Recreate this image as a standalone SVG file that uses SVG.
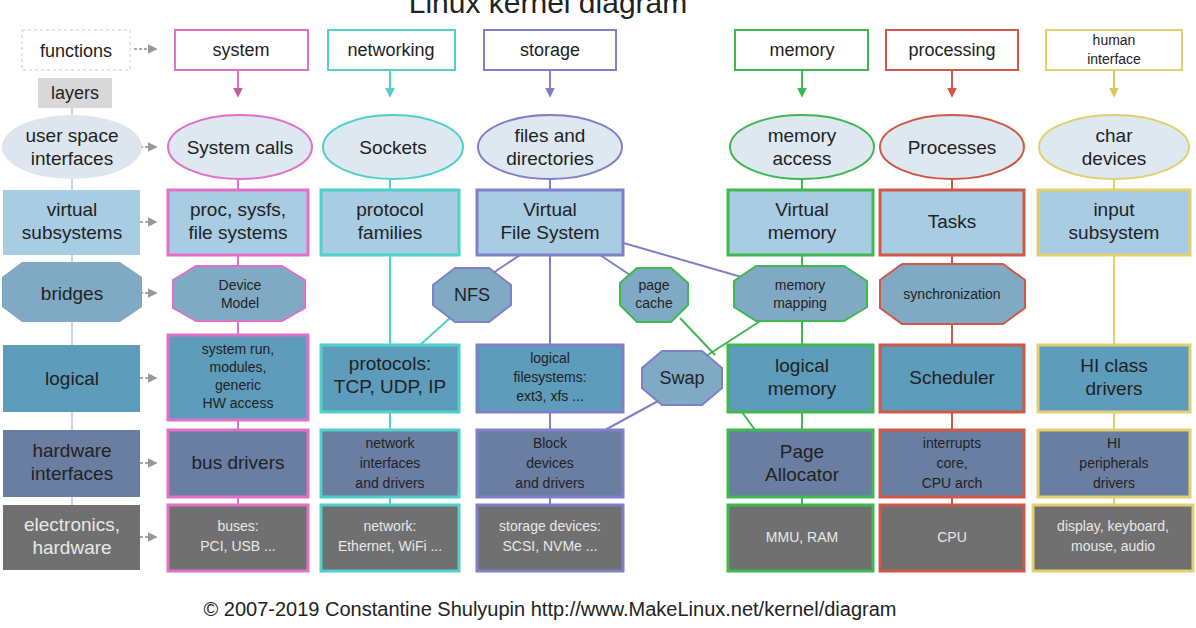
<svg xmlns="http://www.w3.org/2000/svg" width="1196" height="628" viewBox="0 0 1196 628">
<defs>
<marker id="ah" viewBox="0 0 6 6" refX="5" refY="3" markerWidth="5" markerHeight="5" orient="auto"><path d="M0,0L6,3L0,6z" fill="#999"/></marker>
<marker id="pk" viewBox="0 0 6 6" refX="5" refY="3" markerWidth="5" markerHeight="5" orient="auto"><path d="M0,0L6,3L0,6z" fill="#c060a0"/></marker>
<marker id="tl" viewBox="0 0 6 6" refX="5" refY="3" markerWidth="5" markerHeight="5" orient="auto"><path d="M0,0L6,3L0,6z" fill="#50d0c8"/></marker>
<marker id="pu" viewBox="0 0 6 6" refX="5" refY="3" markerWidth="5" markerHeight="5" orient="auto"><path d="M0,0L6,3L0,6z" fill="#8080c8"/></marker>
<marker id="gr" viewBox="0 0 6 6" refX="5" refY="3" markerWidth="5" markerHeight="5" orient="auto"><path d="M0,0L6,3L0,6z" fill="#40b850"/></marker>
<marker id="rd" viewBox="0 0 6 6" refX="5" refY="3" markerWidth="5" markerHeight="5" orient="auto"><path d="M0,0L6,3L0,6z" fill="#d05848"/></marker>
<marker id="yl" viewBox="0 0 6 6" refX="5" refY="3" markerWidth="5" markerHeight="5" orient="auto"><path d="M0,0L6,3L0,6z" fill="#d8c860"/></marker>
</defs>
<style>
text{font-family:"Liberation Sans",Arial,sans-serif;fill:#222;text-anchor:middle}
.w{fill:#e8e8e8}
.top{fill:#fff;stroke-width:2}
.el{fill:#dde8f0;stroke-width:2}
.vs{fill:#a8cce2;stroke-width:3}
.br{fill:#80aac4;stroke-width:2}
.lg{fill:#5d9cba;stroke-width:3}
.hw{fill:#6a7ea2;stroke-width:3}
.el2{fill:#707070;stroke-width:3}
.s{stroke:#e070c8}.n{stroke:#50d0c8}.st{stroke:#8080c8}.m{stroke:#40b850}.p{stroke:#d05848}.h{stroke:#e0d070}
.c line{fill:none;stroke-width:2}
.ar{stroke:#aaa;stroke-width:1.5;stroke-dasharray:3 2}
</style>
<text x="548" y="13" font-size="30">Linux kernel diagram</text>
<g class="c">
<line x1="238" y1="70" x2="238" y2="96" stroke="#e070c8" stroke-width="1.5" marker-end="url(#pk)"/>
<line x1="390" y1="70" x2="390" y2="96" stroke="#50d0c8" stroke-width="1.5" marker-end="url(#tl)"/>
<line x1="550" y1="70" x2="550" y2="96" stroke="#8080c8" stroke-width="1.5" marker-end="url(#pu)"/>
<line x1="802" y1="70" x2="802" y2="96" stroke="#40b850" stroke-width="1.5" marker-end="url(#gr)"/>
<line x1="952" y1="70" x2="952" y2="96" stroke="#d05848" stroke-width="1.5" marker-end="url(#rd)"/>
<line x1="1114" y1="70" x2="1114" y2="96" stroke="#d8c860" stroke-width="1.5" marker-end="url(#yl)"/>
<line x1="238" y1="178" x2="238" y2="505" stroke="#e070c8"/>
<line x1="390" y1="178" x2="390" y2="505" stroke="#50d0c8"/>
<line x1="550" y1="178" x2="550" y2="505" stroke="#8080c8"/>
<line x1="802" y1="178" x2="802" y2="505" stroke="#40b850"/>
<line x1="952" y1="178" x2="952" y2="505" stroke="#d05848"/>
<line x1="1114" y1="178" x2="1114" y2="505" stroke="#e0d070"/>
<line x1="72" y1="108" x2="72" y2="505" stroke="#c8d6e2"/>
<line x1="520" y1="255" x2="490" y2="275" stroke="#8080c8"/>
<line x1="450" y1="318" x2="420" y2="345" stroke="#50d0c8"/>
<line x1="600" y1="255" x2="630" y2="275" stroke="#8080c8"/>
<line x1="620" y1="242" x2="745" y2="278" stroke="#8080c8"/>
<line x1="680" y1="318" x2="715" y2="355" stroke="#40b850"/>
<line x1="765" y1="318" x2="700" y2="360" stroke="#40b850"/>
<line x1="660" y1="400" x2="605" y2="430" stroke="#8080c8"/>
<line x1="742" y1="412" x2="755" y2="430" stroke="#40b850"/>
<line class="ar" x1="134" y1="49" x2="156" y2="49" marker-end="url(#ah)"/>
<line class="ar" x1="140" y1="147" x2="156" y2="147" marker-end="url(#ah)"/>
<line class="ar" x1="140" y1="222" x2="156" y2="222" marker-end="url(#ah)"/>
<line class="ar" x1="140" y1="293" x2="156" y2="293" marker-end="url(#ah)"/>
<line class="ar" x1="140" y1="378" x2="156" y2="378" marker-end="url(#ah)"/>
<line class="ar" x1="140" y1="463" x2="156" y2="463" marker-end="url(#ah)"/>
<line class="ar" x1="140" y1="537" x2="156" y2="537" marker-end="url(#ah)"/>
</g>
<g id="functions"><rect x="22" y="30" width="108" height="40" fill="#fff" stroke="#ccc" stroke-dasharray="3 3"/><text x="76" y="57" font-size="18">functions</text></g>
<g id="layers"><rect x="38" y="78" width="74" height="30" fill="#d8d8d8"/><text x="75" y="99" font-size="18">layers</text></g>
<g id="usi"><ellipse cx="72" cy="147" rx="70" ry="32" fill="#dde6ee"/><text x="72" y="142" font-size="19">user space</text><text x="72" y="165" font-size="19">interfaces</text></g>
<g id="vsub"><rect x="3" y="190" width="137" height="65" fill="#a8cce2"/><text x="72" y="216" font-size="19">virtual</text><text x="72" y="239" font-size="19">subsystems</text></g>
<g id="bridges"><polygon points="22,262 120,262 142,277 142,307 120,322 22,322 2,307 2,277" fill="#80aac4"/><text x="72" y="300" font-size="19">bridges</text></g>
<g id="logical"><rect x="3" y="345" width="137" height="67" fill="#5d9cba"/><text x="72" y="385" font-size="19">logical</text></g>
<g id="hwi"><rect x="3" y="430" width="137" height="67" fill="#6a7ea2"/><text x="72" y="457" font-size="19">hardware</text><text x="72" y="480" font-size="19">interfaces</text></g>
<g id="elec"><rect x="3" y="505" width="137" height="65" fill="#707070"/><text class="w" x="72" y="531" font-size="19">electronics,</text><text class="w" x="72" y="554" font-size="19">hardware</text></g>

<g id="system"><rect class="top s" x="175" y="30" width="133" height="40"/><text x="241" y="56" font-size="18">system</text></g>
<g id="networking"><rect class="top n" x="328" y="30" width="127" height="40"/><text x="391" y="56" font-size="18">networking</text></g>
<g id="storage"><rect class="top st" x="484" y="30" width="132" height="40"/><text x="550" y="56" font-size="18">storage</text></g>
<g id="memory"><rect class="top m" x="735" y="30" width="133" height="40"/><text x="802" y="56" font-size="18">memory</text></g>
<g id="processing"><rect class="top p" x="886" y="30" width="132" height="40"/><text x="952" y="56" font-size="18">processing</text></g>
<g id="human"><rect class="top h" x="1046" y="30" width="136" height="40"/><text x="1114" y="45" font-size="14">human</text><text x="1114" y="64" font-size="14">interface</text></g>

<g id="syscalls"><ellipse class="el s" cx="240" cy="147" rx="72" ry="32"/><text x="240" y="154" font-size="19">System calls</text></g>
<g id="sockets"><ellipse class="el n" cx="393" cy="147" rx="70" ry="32"/><text x="393" y="154" font-size="19">Sockets</text></g>
<g id="files"><ellipse class="el st" cx="550" cy="147" rx="72" ry="32"/><text x="550" y="142" font-size="19">files and</text><text x="550" y="165" font-size="19">directories</text></g>
<g id="memaccess"><ellipse class="el m" cx="802" cy="147" rx="72" ry="32"/><text x="802" y="142" font-size="19">memory</text><text x="802" y="165" font-size="19">access</text></g>
<g id="processes"><ellipse class="el p" cx="952" cy="147" rx="72" ry="32"/><text x="952" y="154" font-size="19">Processes</text></g>
<g id="chardev"><ellipse class="el h" cx="1114" cy="147" rx="75" ry="32"/><text x="1114" y="142" font-size="19">char</text><text x="1114" y="165" font-size="19">devices</text></g>

<g id="procfs"><rect class="vs s" x="168" y="190" width="140" height="65"/><text x="238" y="216" font-size="19">proc, sysfs,</text><text x="238" y="239" font-size="19">file systems</text></g>
<g id="protofam"><rect class="vs n" x="321" y="190" width="138" height="65"/><text x="390" y="216" font-size="19">protocol</text><text x="390" y="239" font-size="19">families</text></g>
<g id="vfs"><rect class="vs st" x="477" y="190" width="146" height="65"/><text x="550" y="216" font-size="19">Virtual</text><text x="550" y="239" font-size="19">File System</text></g>
<g id="vmem"><rect class="vs m" x="728" y="190" width="145" height="65"/><text x="802" y="216" font-size="19">Virtual</text><text x="802" y="239" font-size="19">memory</text></g>
<g id="tasks"><rect class="vs p" x="880" y="190" width="144" height="65"/><text x="952" y="228" font-size="19">Tasks</text></g>
<g id="input"><rect class="vs h" x="1038" y="190" width="152" height="65"/><text x="1114" y="216" font-size="19">input</text><text x="1114" y="239" font-size="19">subsystem</text></g>

<g id="devmodel"><polygon class="br s" points="196,266 282,266 305,280 305,308 282,321 196,321 173,308 173,280"/><text x="240" y="290" font-size="14">Device</text><text x="240" y="308" font-size="14">Model</text></g>
<g id="nfs"><polygon class="br st" points="455,268 489,268 511,285 511,305 489,322 455,322 433,305 433,285"/><text x="472" y="301" font-size="18">NFS</text></g>
<g id="pagecache"><polygon class="br m" points="637,268 671,268 688,283 688,305 671,322 637,322 620,305 620,283"/><text x="654" y="290" font-size="14">page</text><text x="654" y="308" font-size="14">cache</text></g>
<g id="memmap"><polygon class="br m" points="756,266 844,266 867,281 867,307 844,321 756,321 734,307 734,281"/><text x="800" y="290" font-size="14">memory</text><text x="800" y="308" font-size="14">mapping</text></g>
<g id="sync"><polygon class="br p" points="902,264 1003,264 1025,280 1025,308 1003,324 902,324 880,308 880,280"/><text x="952" y="299" font-size="14">synchronization</text></g>
<g id="swap"><polygon class="br st" points="662,351 702,351 722,368 722,388 702,405 662,405 642,388 642,368" fill="#9abcd8"/><text x="682" y="384" font-size="18">Swap</text></g>

<g id="sysrun"><rect class="lg s" x="168" y="335" width="140" height="85"/><text x="238" y="354" font-size="14">system run,</text><text x="238" y="372" font-size="14">modules,</text><text x="238" y="390" font-size="14">generic</text><text x="238" y="408" font-size="14">HW access</text></g>
<g id="protocols"><rect class="lg n" x="321" y="345" width="138" height="67"/><text x="390" y="370" font-size="19">protocols:</text><text x="390" y="393" font-size="19">TCP, UDP, IP</text></g>
<g id="logfs"><rect class="lg st" x="477" y="345" width="146" height="67"/><text x="550" y="363" font-size="14">logical</text><text x="550" y="382" font-size="14">filesystems:</text><text x="550" y="401" font-size="14">ext3, xfs ...</text></g>
<g id="logmem"><rect class="lg m" x="728" y="345" width="145" height="67"/><text x="802" y="372" font-size="19">logical</text><text x="802" y="395" font-size="19">memory</text></g>
<g id="sched"><rect class="lg p" x="880" y="345" width="144" height="67"/><text x="952" y="384" font-size="19">Scheduler</text></g>
<g id="hiclass"><rect class="lg h" x="1038" y="345" width="152" height="67"/><text x="1114" y="372" font-size="19">HI class</text><text x="1114" y="395" font-size="19">drivers</text></g>

<g id="busdrv"><rect class="hw s" x="168" y="430" width="140" height="67"/><text x="238" y="469" font-size="19">bus drivers</text></g>
<g id="netif"><rect class="hw n" x="321" y="430" width="138" height="67"/><text x="390" y="448" font-size="14">network</text><text x="390" y="468" font-size="14">interfaces</text><text x="390" y="488" font-size="14">and drivers</text></g>
<g id="block"><rect class="hw st" x="477" y="430" width="146" height="67"/><text x="550" y="448" font-size="14">Block</text><text x="550" y="468" font-size="14">devices</text><text x="550" y="488" font-size="14">and drivers</text></g>
<g id="pagealloc"><rect class="hw m" x="728" y="430" width="145" height="67"/><text x="802" y="458" font-size="19">Page</text><text x="802" y="481" font-size="19">Allocator</text></g>
<g id="irq"><rect class="hw p" x="880" y="430" width="144" height="67"/><text x="952" y="448" font-size="14">interrupts</text><text x="952" y="468" font-size="14">core,</text><text x="952" y="488" font-size="14">CPU arch</text></g>
<g id="hiperiph"><rect class="hw h" x="1038" y="430" width="152" height="67"/><text x="1114" y="448" font-size="14">HI</text><text x="1114" y="468" font-size="14">peripherals</text><text x="1114" y="488" font-size="14">drivers</text></g>

<g id="buses"><rect class="el2 s" x="168" y="505" width="140" height="66"/><text class="w" x="238" y="531" font-size="14">buses:</text><text class="w" x="238" y="551" font-size="14">PCI, USB ...</text></g>
<g id="netdev"><rect class="el2 n" x="321" y="505" width="138" height="66"/><text class="w" x="390" y="531" font-size="14">network:</text><text class="w" x="390" y="551" font-size="14">Ethernet, WiFi ...</text></g>
<g id="stordev"><rect class="el2 st" x="477" y="505" width="146" height="66"/><text class="w" x="550" y="531" font-size="14">storage devices:</text><text class="w" x="550" y="551" font-size="14">SCSI, NVMe ...</text></g>
<g id="mmu"><rect class="el2 m" x="728" y="505" width="145" height="66"/><text class="w" x="802" y="542" font-size="14">MMU, RAM</text></g>
<g id="cpu"><rect class="el2 p" x="880" y="505" width="144" height="66"/><text class="w" x="952" y="542" font-size="14">CPU</text></g>
<g id="display"><rect class="el2 h" x="1033" y="505" width="160" height="66"/><text class="w" x="1113" y="531" font-size="14">display, keyboard,</text><text class="w" x="1113" y="551" font-size="14">mouse, audio</text></g>

<text x="550" y="616" font-size="20">© 2007-2019 Constantine Shulyupin http://www.MakeLinux.net/kernel/diagram</text>
</svg>
